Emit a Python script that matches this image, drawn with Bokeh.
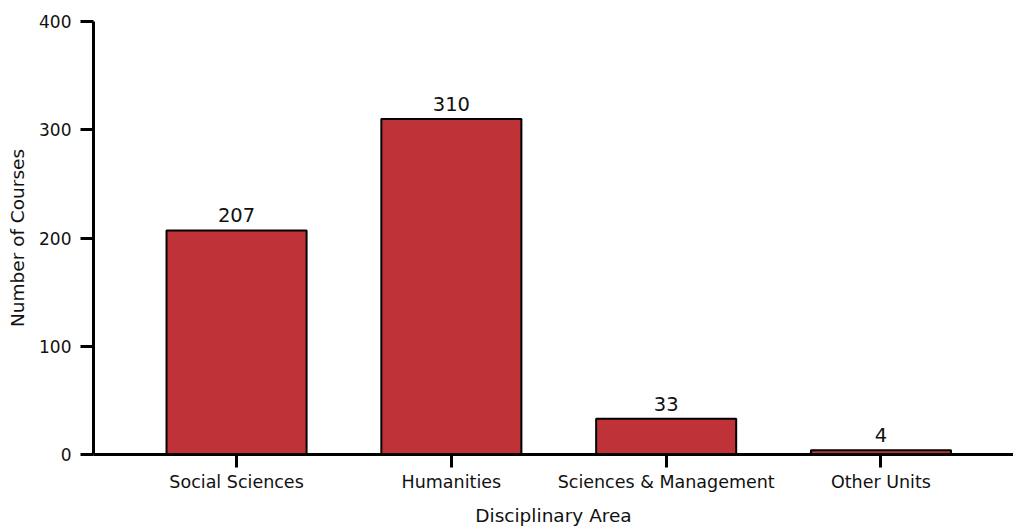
from bokeh.plotting import figure
from bokeh.models import ColumnDataSource, FixedTicker, Range1d
from bokeh.embed import file_html
from bokeh.resources import INLINE
from bokeh.core.properties import value

categories = ["Social Sciences", "Humanities", "Sciences & Management", "Other Units"]
courses = [207, 310, 33, 4]
y_ticks = [0, 100, 200, 300, 400]

xpos = list(range(len(categories)))
src = ColumnDataSource(dict(x=xpos, top=courses, label=[str(v) for v in courses]))

FONT = "DejaVu Sans"

p = figure(width=1013, height=529, output_backend="svg", toolbar_location=None,
           x_range=Range1d(-0.666, 3.617), y_range=Range1d(0, 400),
           min_border_top=21, min_border_right=0, min_border_left=93,
           min_border_bottom=75)

p.vbar(x="x", top="top", width=0.652, source=src, fill_color="#BF3338",
       line_color="black", line_width=2)
p.text(x="x", y="top", text="label", source=src, text_align="center",
       text_baseline="bottom", y_offset=-8, text_font=value(FONT),
       text_font_size="19.5px", text_color="#111111")

p.xgrid.visible = False
p.ygrid.visible = False
p.outline_line_color = None

p.xaxis.ticker = FixedTicker(ticks=xpos)
p.xaxis.major_label_overrides = {i: c for i, c in enumerate(categories)}
p.yaxis.ticker = FixedTicker(ticks=y_ticks)

for ax in (p.xaxis[0], p.yaxis[0]):
    ax.axis_line_width = 3
    ax.axis_line_color = "black"
    ax.major_tick_line_width = 3
    ax.major_tick_line_color = "black"
    ax.major_tick_out = 13
    ax.major_tick_in = 0
    ax.minor_tick_out = 0
    ax.minor_tick_in = 0
    ax.major_label_text_font = FONT
    ax.major_label_text_font_size = "17px"
    ax.major_label_text_color = "#111111"
    ax.axis_label_text_font = FONT
    ax.axis_label_text_font_size = "18.5px"
    ax.axis_label_text_font_style = "normal"
    ax.axis_label_text_color = "#111111"

p.xaxis.major_label_text_font_size = "17.5px"
p.xaxis.axis_label = "Disciplinary Area"
p.yaxis.axis_label = "Number of Courses"
p.xaxis.major_label_standoff = 4
p.yaxis.major_label_standoff = 9
p.xaxis.axis_label_standoff = 10
p.yaxis.axis_label_standoff = 8

open("out.html", "w").write(file_html(p, INLINE))
